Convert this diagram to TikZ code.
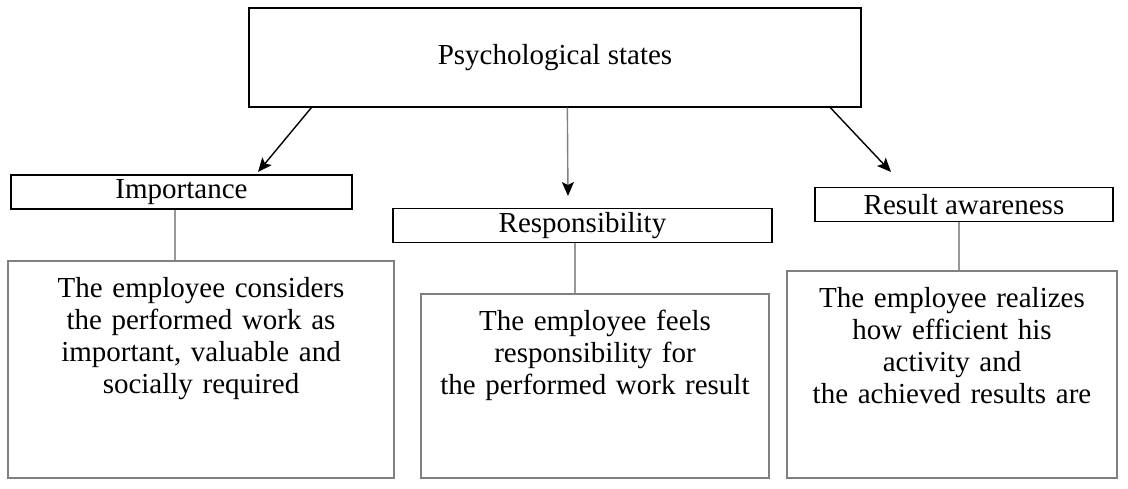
\documentclass[tikz,border=0pt]{standalone}
\usepackage{fontspec}
\setmainfont{Liberation Serif}
\usetikzlibrary{arrows.meta,positioning}

\begin{document}
\begin{tikzpicture}[x=1pt,y=-1pt,
  headbox/.style={draw,line width=1.3pt,minimum width=612pt,minimum height=99pt,font=\fontsize{29}{32}\selectfont},
  statebox/.style={draw,line width=1.3pt,minimum height=34pt,inner sep=0pt,font=\fontsize{29}{32}\selectfont},
  notebox/.style={draw=gray,line width=1.6pt,inner sep=0pt,align=center,anchor=north,text height=37pt,font=\fontsize{29}{32}\selectfont},
  link/.style={draw=gray!80,line width=1.2pt},
  arr/.style={line width=1.4pt,-{Stealth[length=14pt,width=12pt,inset=3pt]}}]
   \useasboundingbox (0,0) rectangle (1128,488);
   \node[headbox] (psych) at (555,57.5) {Psychological states};
   \node[statebox,minimum width=341pt] (imp) at (181.5,192) {Importance};
   \node[statebox,minimum width=379pt] (resp) at (582.5,225.5) {Responsibility};
   \node[statebox,minimum width=298pt] (aware) at (964,204.5) {Result awareness};
   \node[notebox,text width=386pt,text depth=180pt] (impbox) at (201,260)
      {The employee considers\\ the performed work as\\ important, valuable and\\ socially required};
   \node[notebox,text width=348pt,text depth=147pt] (respbox) at (595,293)
      {The employee feels\\ responsibility for\\ the performed work result};
   \node[notebox,text width=330pt,text depth=170pt] (awarebox) at (952,270)
      {The employee realizes\\ how efficient his\\ activity and\\ the achieved results are};
   % arrow ends stop short of the boxes
   \coordinate (imp tip) at (258,172);
   \coordinate (resp tip) at (568,196);
   \coordinate (aware tip) at (891,172);
   \draw[arr] ([xshift=63pt]psych.south west) -- (imp tip);
   \draw[arr,draw=gray,-{Stealth[length=14pt,width=12pt,inset=3pt,black]}] ([xshift=319pt]psych.south west) -- (resp tip);
   \draw[arr] ([xshift=582pt]psych.south west) -- (aware tip);
   \draw[link] ([xshift=-6.5pt]imp.south) -- ([xshift=-6.5pt]imp.south |- impbox.north);
   \draw[link] ([xshift=-7.5pt]resp.south) -- ([xshift=-7.5pt]resp.south |- respbox.north);
   \draw[link] ([xshift=-5pt]aware.south) -- ([xshift=-5pt]aware.south |- awarebox.north);
\end{tikzpicture}
\end{document}
